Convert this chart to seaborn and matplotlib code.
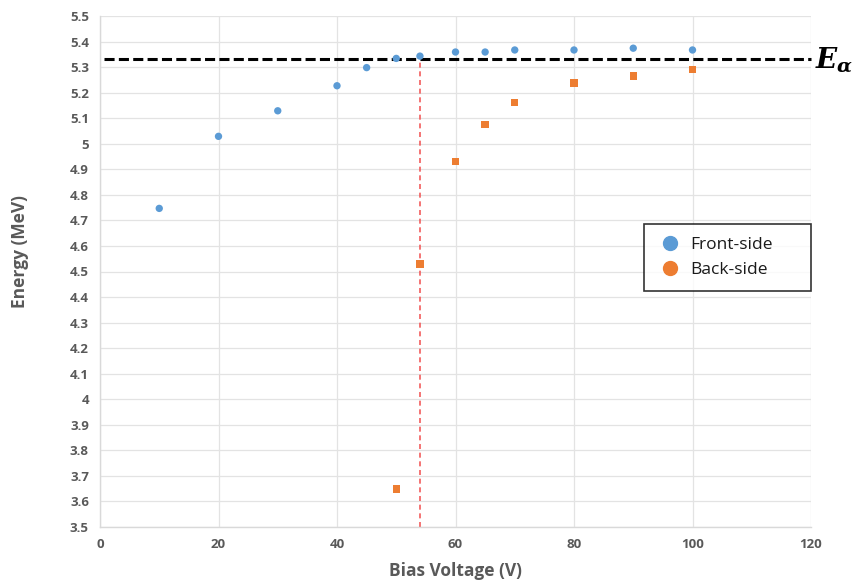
import matplotlib
matplotlib.use("Agg")
import matplotlib.pyplot as plt
from matplotlib.lines import Line2D
import seaborn as sns
import pandas as pd

# ---- data ----
front_voltage = [10, 20, 30, 40, 45, 50, 54, 60, 65, 70, 80, 90, 100]
front_energy = [4.747, 5.029, 5.129, 5.227, 5.298, 5.334, 5.343, 5.359, 5.359, 5.367, 5.367, 5.374, 5.367]
back_voltage = [50, 54, 60, 65, 70, 80, 90, 100]
back_energy = [3.649, 4.529, 4.931, 5.076, 5.161, 5.238, 5.265, 5.290]
series_names = ["Front-side", "Back-side"]
e_alpha = 5.33
depletion_voltage = 54
x_ticks = [0, 20, 40, 60, 80, 100, 120]
y_ticks = [3.5, 3.6, 3.7, 3.8, 3.9, 4.0, 4.1, 4.2, 4.3, 4.4, 4.5, 4.6, 4.7, 4.8, 4.9, 5.0, 5.1, 5.2, 5.3, 5.4, 5.5]
y_tick_labels = ["3.5", "3.6", "3.7", "3.8", "3.9", "4", "4.1", "4.2", "4.3", "4.4", "4.5",
                 "4.6", "4.7", "4.8", "4.9", "5", "5.1", "5.2", "5.3", "5.4", "5.5"]

df = pd.DataFrame({
    "Bias Voltage (V)": front_voltage + back_voltage,
    "Energy (MeV)": front_energy + back_energy,
    "Series": [series_names[0]] * len(front_voltage) + [series_names[1]] * len(back_voltage),
})

sns.set_theme(style="white")
plt.rcParams["font.family"] = ["Open Sans", "DejaVu Sans"]
plt.rcParams["mathtext.fontset"] = "custom"
plt.rcParams["mathtext.it"] = "DejaVu Serif:italic:bold"
plt.rcParams["mathtext.rm"] = "DejaVu Serif:bold"

blue = "#5B9BD5"
orange = "#ED7D31"
grey_text = "#595959"

fig = plt.figure(figsize=(8.55, 5.87), dpi=100)
ax = fig.add_axes([100 / 855, 60 / 587, 711 / 855, 511 / 587])

sns.scatterplot(data=df, x="Bias Voltage (V)", y="Energy (MeV)", hue="Series", style="Series",
                palette={series_names[0]: blue, series_names[1]: orange},
                markers={series_names[0]: "o", series_names[1]: "s"},
                s=28, linewidth=0, legend=False, ax=ax, zorder=4)

ax.set_xlim(0, 120)
ax.set_ylim(3.5, 5.5)
ax.set_xticks(x_ticks)
ax.set_yticks(y_ticks)
ax.set_yticklabels(y_tick_labels)

ax.grid(True, color="#E3E3E3", linewidth=0.9)
ax.set_axisbelow(True)
for side in ["top", "right"]:
    ax.spines[side].set_visible(False)
for side in ["left", "bottom"]:
    ax.spines[side].set_color("#D9D9D9")
    ax.spines[side].set_linewidth(1.0)

ax.tick_params(axis="both", length=0, labelsize=9.5, labelcolor=grey_text, pad=8)
for lbl in ax.get_xticklabels() + ax.get_yticklabels():
    lbl.set_fontweight("bold")

ax.set_xlabel("Bias Voltage (V)", fontsize=12.5, fontweight="bold", color=grey_text, labelpad=8)
ax.set_ylabel("Energy (MeV)", fontsize=12.5, fontweight="bold", color=grey_text)
ax.yaxis.set_label_coords((29 - 100) / 711, (527 - 252) / 511)

# reference lines
ax.plot([0.6, 120], [e_alpha, e_alpha], color="black", linewidth=2.2,
        dashes=(3.3, 1.4), zorder=3, clip_on=False)
ax.plot([depletion_voltage, depletion_voltage], [3.5, e_alpha], color="#F25C5C",
        linewidth=1.2, dashes=(3.0, 2.2), zorder=2)

fig.text(815 / 855, (587 - 68) / 587, r"$E_\alpha$", fontsize=20, color="black",
         ha="left", va="baseline")

handles = [
    Line2D([], [], marker="o", linestyle="", markersize=10, color=blue, label=series_names[0]),
    Line2D([], [], marker="o", linestyle="", markersize=10, color=orange, label=series_names[1]),
]
leg = ax.legend(handles=handles, loc="upper left", mode="expand",
                bbox_to_anchor=((644 - 100) / 711, (527 - 291) / 511,
                                (811 - 644) / 711, (291 - 224) / 511),
                fontsize=12.5, frameon=True, fancybox=False, borderpad=0.75,
                handletextpad=0.4, labelspacing=0.5, handlelength=1.5, borderaxespad=0)
leg.get_frame().set_edgecolor("black")
leg.get_frame().set_linewidth(1.2)
for t in leg.get_texts():
    t.set_color("#1a1a1a")

fig.savefig("out.png", dpi=100)
